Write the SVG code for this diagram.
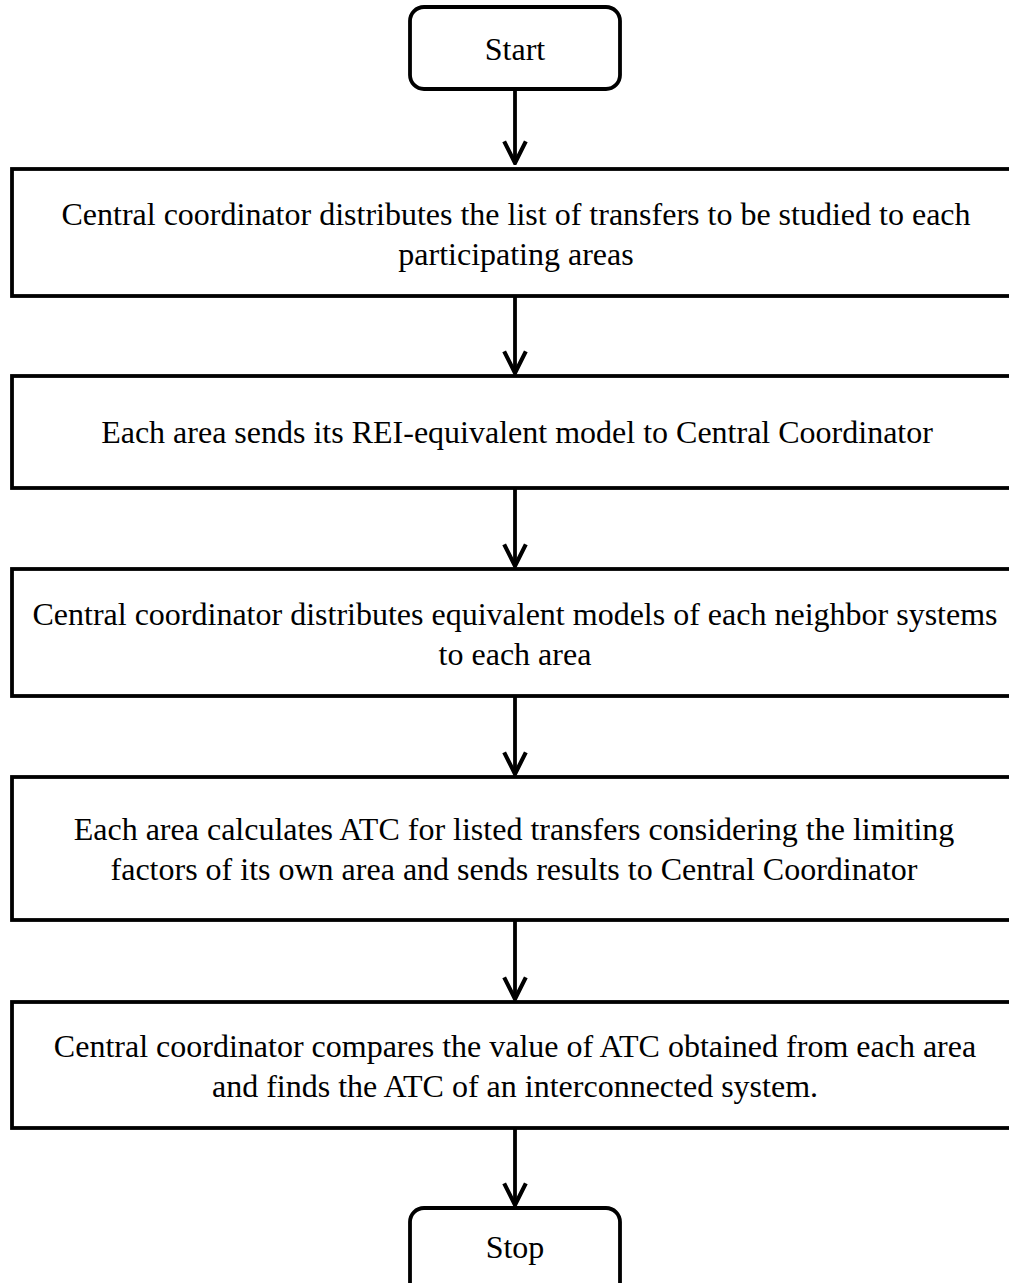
<svg xmlns="http://www.w3.org/2000/svg" width="1009" height="1283" viewBox="0 0 1009 1283">
<defs>
<marker id="ah" markerUnits="userSpaceOnUse" markerWidth="26" markerHeight="26" refX="22" refY="12" orient="auto" viewBox="0 0 24 24">
<path d="M2,2 L22,12 L2,22" fill="none" stroke="#000" stroke-width="3.8"/>
</marker>
</defs>
<style>
.box{fill:#fff;stroke:#000;stroke-width:3.8}
.t{font-family:"Liberation Serif","Times New Roman",serif;font-size:32px;fill:#000;text-anchor:middle}
.c{fill:none;stroke:#000;stroke-width:3.8}
</style>
<rect width="1009" height="1283" fill="#fff"/>
<g id="connectors">
<line class="c" x1="515" y1="89" x2="515" y2="163" marker-end="url(#ah)"/>
<line class="c" x1="515" y1="296" x2="515" y2="373" marker-end="url(#ah)"/>
<line class="c" x1="515" y1="488" x2="515" y2="566" marker-end="url(#ah)"/>
<line class="c" x1="515" y1="696" x2="515" y2="774" marker-end="url(#ah)"/>
<line class="c" x1="515" y1="920" x2="515" y2="999" marker-end="url(#ah)"/>
<line class="c" x1="515" y1="1128" x2="515" y2="1205" marker-end="url(#ah)"/>
</g>
<g id="start">
<rect class="box" x="410" y="7" width="210" height="82" rx="14"/>
<text class="t" x="515" y="60">Start</text>
</g>
<g id="step1">
<rect class="box" x="12" y="169" width="1010" height="127"/>
<text class="t" x="516" y="225">Central coordinator distributes the list of transfers to be studied to each</text>
<text class="t" x="516" y="265">participating areas</text>
</g>
<g id="step2">
<rect class="box" x="12" y="376" width="1010" height="112"/>
<text class="t" x="517" y="443">Each area sends its REI-equivalent model to Central Coordinator</text>
</g>
<g id="step3">
<rect class="box" x="12" y="569" width="1010" height="127"/>
<text class="t" x="515" y="625">Central coordinator distributes equivalent models of each neighbor systems</text>
<text class="t" x="515" y="665">to each area</text>
</g>
<g id="step4">
<rect class="box" x="12" y="777" width="1010" height="143"/>
<text class="t" x="514" y="840">Each area calculates ATC for listed transfers considering the limiting</text>
<text class="t" x="514" y="880">factors of its own area and sends results to Central Coordinator</text>
</g>
<g id="step5">
<rect class="box" x="12" y="1002" width="1010" height="126"/>
<text class="t" x="515" y="1057">Central coordinator compares the value of ATC obtained from each area</text>
<text class="t" x="515" y="1097">and finds the ATC of an interconnected system.</text>
</g>
<g id="stop">
<rect class="box" x="410" y="1208" width="210" height="90" rx="14"/>
<text class="t" x="515" y="1258">Stop</text>
</g>
</svg>
